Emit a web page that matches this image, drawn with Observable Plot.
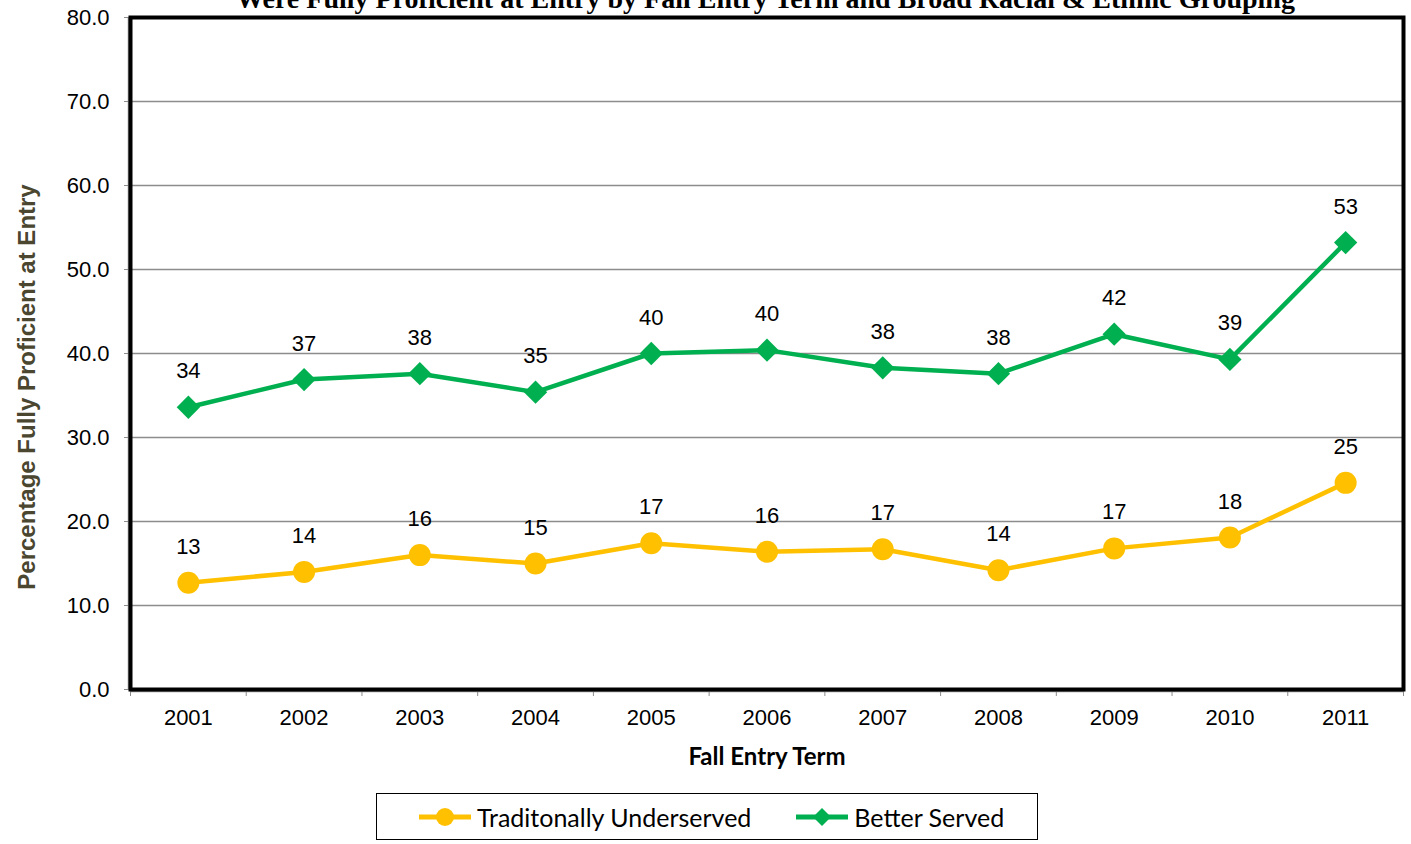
<!DOCTYPE html>
<html>
<head>
<meta charset="utf-8">
<script src="https://cdn.jsdelivr.net/npm/d3@7"></script>
<script src="https://cdn.jsdelivr.net/npm/@observablehq/plot@0.6"></script>
<style>
  html, body { margin: 0; padding: 0; background: #fff; overflow: hidden; }
  #wrap { position: relative; width: 1411px; height: 844px; overflow: hidden; }
  #title { position: absolute; left: 0; width: 1531px; top: -17px; text-align: center;
    font-family: "Liberation Serif", serif; font-weight: bold; font-size: 28px; color: #000; white-space: nowrap; }
  #ylabel { position: absolute; left: 27px; top: 387px; transform: translate(-50%, -50%) rotate(-90deg);
    font-family: "Liberation Sans", Arial, sans-serif; font-weight: bold; font-size: 24px; color: #4a4630; white-space: nowrap; }
  #legend { position: absolute; left: 376px; top: 793px; width: 618px; height: 45px; border: 1.5px solid #000;
    display: flex; align-items: center; justify-content: flex-start; padding-left: 42px; box-sizing: content-box;
    font-family: Lato, "Open Sans", sans-serif; font-size: 25px; color: #000; white-space: nowrap; }
  .item { display: flex; align-items: center; gap: 6px; margin-right: 45px; flex-shrink: 0; white-space: nowrap; }
  .item svg { flex-shrink: 0; }
  #chart { position: absolute; left: 0; top: 0; }
</style>
</head>
<body>
<div id="wrap">
  <div id="chart"></div>
  <div id="title">Were Fully Proficient at Entry by Fall Entry Term and Broad Racial &amp; Ethnic Grouping</div>
  <div id="ylabel">Percentage Fully Proficient at Entry</div>
  <div id="legend"></div>
</div>
<script>
const years = [2001, 2002, 2003, 2004, 2005, 2006, 2007, 2008, 2009, 2010, 2011];
const underserved = [12.7, 14.0, 16.0, 15.0, 17.4, 16.4, 16.7, 14.2, 16.8, 18.1, 24.6];
const betterServed = [33.6, 36.9, 37.6, 35.4, 40.0, 40.4, 38.3, 37.6, 42.3, 39.3, 53.2];
const underservedLabels = ["13", "14", "16", "15", "17", "16", "17", "14", "17", "18", "25"];
const betterServedLabels = ["34", "37", "38", "35", "40", "40", "38", "38", "42", "39", "53"];
const seriesNames = ["Traditonally Underserved", "Better Served"];
const yTicks = [0, 10, 20, 30, 40, 50, 60, 70, 80];

const gold = "#FFC000", green = "#00B050";

const uData = years.map((y, i) => ({year: y, value: underserved[i], label: underservedLabels[i]}));
const bData = years.map((y, i) => ({year: y, value: betterServed[i], label: betterServedLabels[i]}));
const boundaries = d3.range(years.length + 1).map(i => years[0] - 0.5 + i);

const chart = Plot.plot({
  width: 1411,
  height: 790,
  marginLeft: 130,
  marginRight: 8,
  marginTop: 17,
  marginBottom: 101,
  style: {fontFamily: "'Liberation Sans', Arial, sans-serif", fontSize: "22px", color: "#000", background: "#fff"},
  x: {type: "linear", domain: [years[0] - 0.5, years[years.length - 1] + 0.5]},
  y: {domain: [0, 80]},
  marks: [
    Plot.gridY(yTicks.slice(1), {stroke: "#8c8c8c", strokeOpacity: 1, strokeWidth: 1.6}),
    Plot.axisY({ticks: yTicks, tickFormat: d => d.toFixed(1), tickSize: 6, tickPadding: 15, stroke: "#8c8c8c", label: null, fontSize: 22}),
    Plot.axisX({ticks: boundaries, tickFormat: () => "", tickSize: 7, stroke: "#8c8c8c", label: null}),
    Plot.axisX({ticks: years, tickFormat: d => String(d), tickSize: 0, tickPadding: 20, label: null, fontSize: 22}),
    Plot.axisX({ticks: [], label: "Fall Entry Term", labelAnchor: "center", labelOffset: 75, labelArrow: "none",
      fontFamily: "Lato, 'Open Sans', sans-serif", fontWeight: "bold", fontSize: 24}),
    Plot.ruleX([years[0] - 0.5], {stroke: "#8c8c8c", strokeWidth: 1.5, dx: -2}),
    Plot.ruleY([0], {stroke: "#8c8c8c", strokeWidth: 1.5, dy: 2}),
    Plot.frame({stroke: "#000", strokeWidth: 4}),
    Plot.line(uData, {x: "year", y: "value", stroke: gold, strokeWidth: 4.5}),
    Plot.dot(uData, {x: "year", y: "value", r: 11, fill: gold, symbol: "circle"}),
    Plot.line(bData, {x: "year", y: "value", stroke: green, strokeWidth: 4.5}),
    Plot.dot(bData, {x: "year", y: "value", r: 10.5, fill: green, symbol: "diamond2"}),
    Plot.text(uData, {x: "year", y: "value", text: "label", dy: -36, fontSize: 22, fill: "#000"}),
    Plot.text(bData, {x: "year", y: "value", text: "label", dy: -36, fontSize: 22, fill: "#000"})
  ]
});
document.getElementById("chart").appendChild(chart);

// legend
const legend = document.getElementById("legend");
const swatches = [
  {name: seriesNames[0], color: gold, shape: "circle"},
  {name: seriesNames[1], color: green, shape: "diamond"}
];
for (const s of swatches) {
  const item = document.createElement("div");
  item.className = "item";
  const marker = s.shape === "circle"
    ? `<circle cx="26" cy="12" r="9" fill="${s.color}"/>`
    : `<path d="M26,3 L35,12 L26,21 L17,12 Z" fill="${s.color}"/>`;
  item.innerHTML = `<svg width="52" height="24"><line x1="0" y1="12" x2="52" y2="12" stroke="${s.color}" stroke-width="5"/>${marker}</svg><span>${s.name}</span>`;
  legend.appendChild(item);
}
</script>
</body>
</html>
